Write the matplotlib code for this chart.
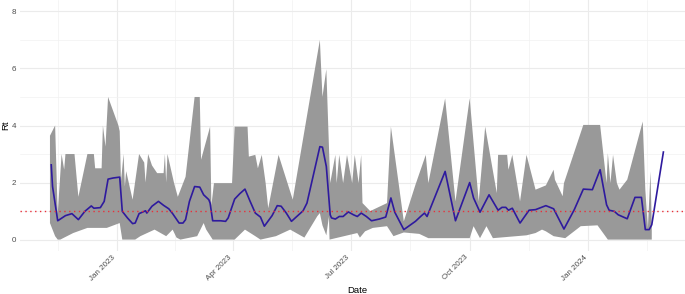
import matplotlib.pyplot as plt
import matplotlib.dates as mdates
import numpy as np
import pandas as pd

# days counted from 2023-01-01
base_date = pd.Timestamp("2023-01-01")

rt_day = [-51, -50, -46, -40, -35, -30, -25, -20, -18, -13, -10, -7, -3, 2, 4, 8, 12, 14,
          17, 22, 23, 27, 32, 36, 40, 43, 48, 51, 53, 56, 60, 64, 67, 71, 72, 74, 80, 84,
          86, 91, 95, 99, 103, 107, 111, 114, 120, 124, 127, 131, 135, 144, 147, 157, 159,
          162, 165, 166, 169, 172, 175, 179, 183, 186, 189, 193, 197, 203, 208, 212, 215,
          222, 231, 235, 238, 240, 254, 262, 273, 276, 281, 288, 295, 298, 301, 303, 306,
          312, 319, 324, 332, 338, 346, 354, 361, 368, 374, 379, 381, 385, 388, 395, 401,
          406, 409, 412, 414, 423]
rt_mean = [2.62, 1.86, 0.66, 0.84, 0.91, 0.70, 0.99, 1.18, 1.10, 1.12, 1.34, 2.12, 2.16, 2.19,
           0.99, 0.76, 0.56, 0.58, 0.91, 1.01, 0.93, 1.17, 1.34, 1.20, 1.08, 0.91, 0.58, 0.58,
           0.70, 1.34, 1.86, 1.84, 1.57, 1.40, 1.28, 0.66, 0.66, 0.64, 0.76, 1.42, 1.61, 1.77,
           1.34, 0.93, 0.79, 0.47, 0.84, 1.19, 1.17, 0.93, 0.64, 1.01, 1.28, 3.26, 3.24, 2.56,
           0.87, 0.76, 0.72, 0.81, 0.81, 0.97, 0.87, 0.81, 0.93, 0.81, 0.66, 0.72, 0.79, 1.46,
           0.96, 0.35, 0.64, 0.81, 0.93, 0.81, 2.39, 0.66, 2.00, 1.46, 0.96, 1.57, 1.03, 1.13,
           1.13, 1.03, 1.10, 0.58, 1.03, 1.05, 1.19, 1.08, 0.37, 1.05, 1.77, 1.75, 2.45, 1.22,
           1.03, 0.99, 0.87, 0.73, 1.48, 1.48, 0.35, 0.35, 0.52, 3.07]

upper_day = [-52, -48, -46, -43, -41, -40, -33, -30, -23, -18, -17, -12, -11, -9, -7, 1, 2, 3,
             5, 6, 7, 12, 17, 21, 22, 24, 27, 31, 36, 37, 38, 39, 44, 47, 53, 60, 64, 65, 72,
             73, 75, 89, 91, 101, 102, 107, 109, 112, 115, 117, 125, 136, 157, 159, 162, 163.5,
             165, 169, 170, 172, 175, 178, 182, 184, 187, 189, 190, 196, 209, 212, 222, 231,
             239, 241, 254, 262, 273, 280, 285, 294, 295, 302, 303, 306, 312, 317, 324, 332,
             338, 339, 345, 346, 361, 374, 379, 380, 382, 384, 387, 389, 395, 407, 409, 411,
             413, 414]
upper_val = [3.64, 4.0, 0.9, 3.0, 2.45, 3.0, 3.0, 1.5, 3.0, 3.0, 2.5, 2.5, 4.0, 3.26, 5.0, 4.0,
             3.8, 2.04, 3.0, 1.86, 2.4, 1.4, 3.0, 2.7, 2.0, 3.0, 2.6, 2.33, 2.33, 3.0, 2.0, 3.0,
             2.0, 1.5, 2.2, 5.0, 5.0, 2.8, 3.96, 1.2, 1.98, 1.98, 3.96, 3.96, 2.91, 2.97, 2.5,
             2.97, 1.98, 1.1, 2.97, 1.4, 7.0, 5.0, 5.97, 3.96, 1.98, 2.97, 1.98, 2.97, 1.98,
             2.97, 1.98, 2.97, 1.98, 2.97, 1.28, 1.0, 1.28, 3.96, 0.64, 1.92, 2.97, 1.98, 4.95,
             1.34, 4.95, 1.34, 3.96, 1.63, 2.97, 2.97, 2.45, 2.97, 1.34, 2.97, 1.75, 1.9, 2.45,
             2.1, 1.52, 1.98, 4.02, 4.02, 1.98, 3.03, 1.98, 2.97, 1.98, 1.75, 2.1, 4.14, 1.75,
             0.4, 2.39, 0.52]

lower_day = [-52, -48, -46, -44, -34, -23, -8, 2, 4, 14, 18, 29, 38, 43, 46, 49, 62, 67, 69,
             74, 91, 99, 107, 111, 123, 134, 145, 155, 157, 159, 162, 164, 164.5, 186, 188,
             192, 198, 209, 214, 222, 234, 241, 273, 276, 281, 286, 291, 317, 324, 329, 332,
             338, 347, 359, 372, 380, 414]
lower_val = [0.58, 0.12, 0.0, 0.0, 0.23, 0.41, 0.41, 0.58, 0.0, 0.0, 0.12, 0.35, 0.12, 0.35,
             0.07, 0.0, 0.12, 0.58, 0.35, 0.0, 0.0, 0.35, 0.12, 0.0, 0.12, 0.35, 0.07, 0.82,
             0.93, 0.5, 0.15, 0.8, 0.0, 0.23, 0.07, 0.29, 0.41, 0.47, 0.12, 0.25, 0.2, 0.05,
             0.05, 0.47, 0.05, 0.47, 0.05, 0.15, 0.23, 0.35, 0.29, 0.12, 0.05, 0.47, 0.5, 0.0,
             0.0]

threshold = 1

plt.rcParams['font.family'] = ['Liberation Sans', 'DejaVu Sans']

d0 = mdates.date2num(base_date.to_pydatetime())
rt_x = d0 + np.array(rt_day)
up_x = d0 + np.array(upper_day)
lo_x = d0 + np.array(lower_day)

fig = plt.figure(figsize=(6.85, 2.94), dpi=100)
W, H = 685, 294
ax = fig.add_axes([20 / W, 43 / H, 674 / W, 251 / H])

# ribbon (upper edge forward, lower edge back)
poly_x = np.concatenate([up_x, lo_x[::-1]])
poly_y = np.concatenate([upper_val, lower_val[::-1]])
ax.fill(poly_x, poly_y, color='#999999', lw=0, zorder=2)

ax.plot(rt_x, rt_mean, color='#2e1a9e', lw=1.2, zorder=3)
ax.axhline(threshold, color='#e8303a', lw=1.0, ls=(0, (1, 2.5)), zorder=4)

ax.set_xlim(d0 - 75.2, d0 + 446.7)
ax.set_ylim(-0.4, 8.4)

majors = [pd.Timestamp(s) for s in ["2022-10-01", "2023-01-01", "2023-04-01", "2023-07-01",
                                    "2023-10-01", "2024-01-01", "2024-04-01"]]
maj_num = [mdates.date2num(t.to_pydatetime()) for t in majors]
ax.set_xticks(maj_num[1:-1])
ax.set_xticklabels([t.strftime("%b %Y") for t in majors[1:-1]])
ax.set_xticks([(a + b) / 2 for a, b in zip(maj_num[:-1], maj_num[1:])], minor=True)
ax.set_yticks([0, 2, 4, 6, 8])
ax.set_yticks([1, 3, 5, 7], minor=True)

ax.grid(which='major', color='#ebebeb', lw=0.8, zorder=0)
ax.grid(which='minor', color='#f2f2f2', lw=0.5, zorder=0)
ax.set_axisbelow(True)
for s in ax.spines.values():
    s.set_visible(False)
ax.tick_params(which='both', length=0)
ax.tick_params(axis='y', labelsize=5.8, labelcolor='#4d4d4d', pad=3)
ax.tick_params(axis='x', labelsize=5.8, labelcolor='#4d4d4d', pad=2)
for lab in ax.get_xticklabels():
    lab.set_rotation(45)
    lab.set_ha('right')
    lab.set_va('top')

ax.set_xlabel("Date", fontsize=6.8, labelpad=3)
ax.set_ylabel("Rt", fontsize=6.8, labelpad=1)

fig.savefig("out.png", dpi=100)
